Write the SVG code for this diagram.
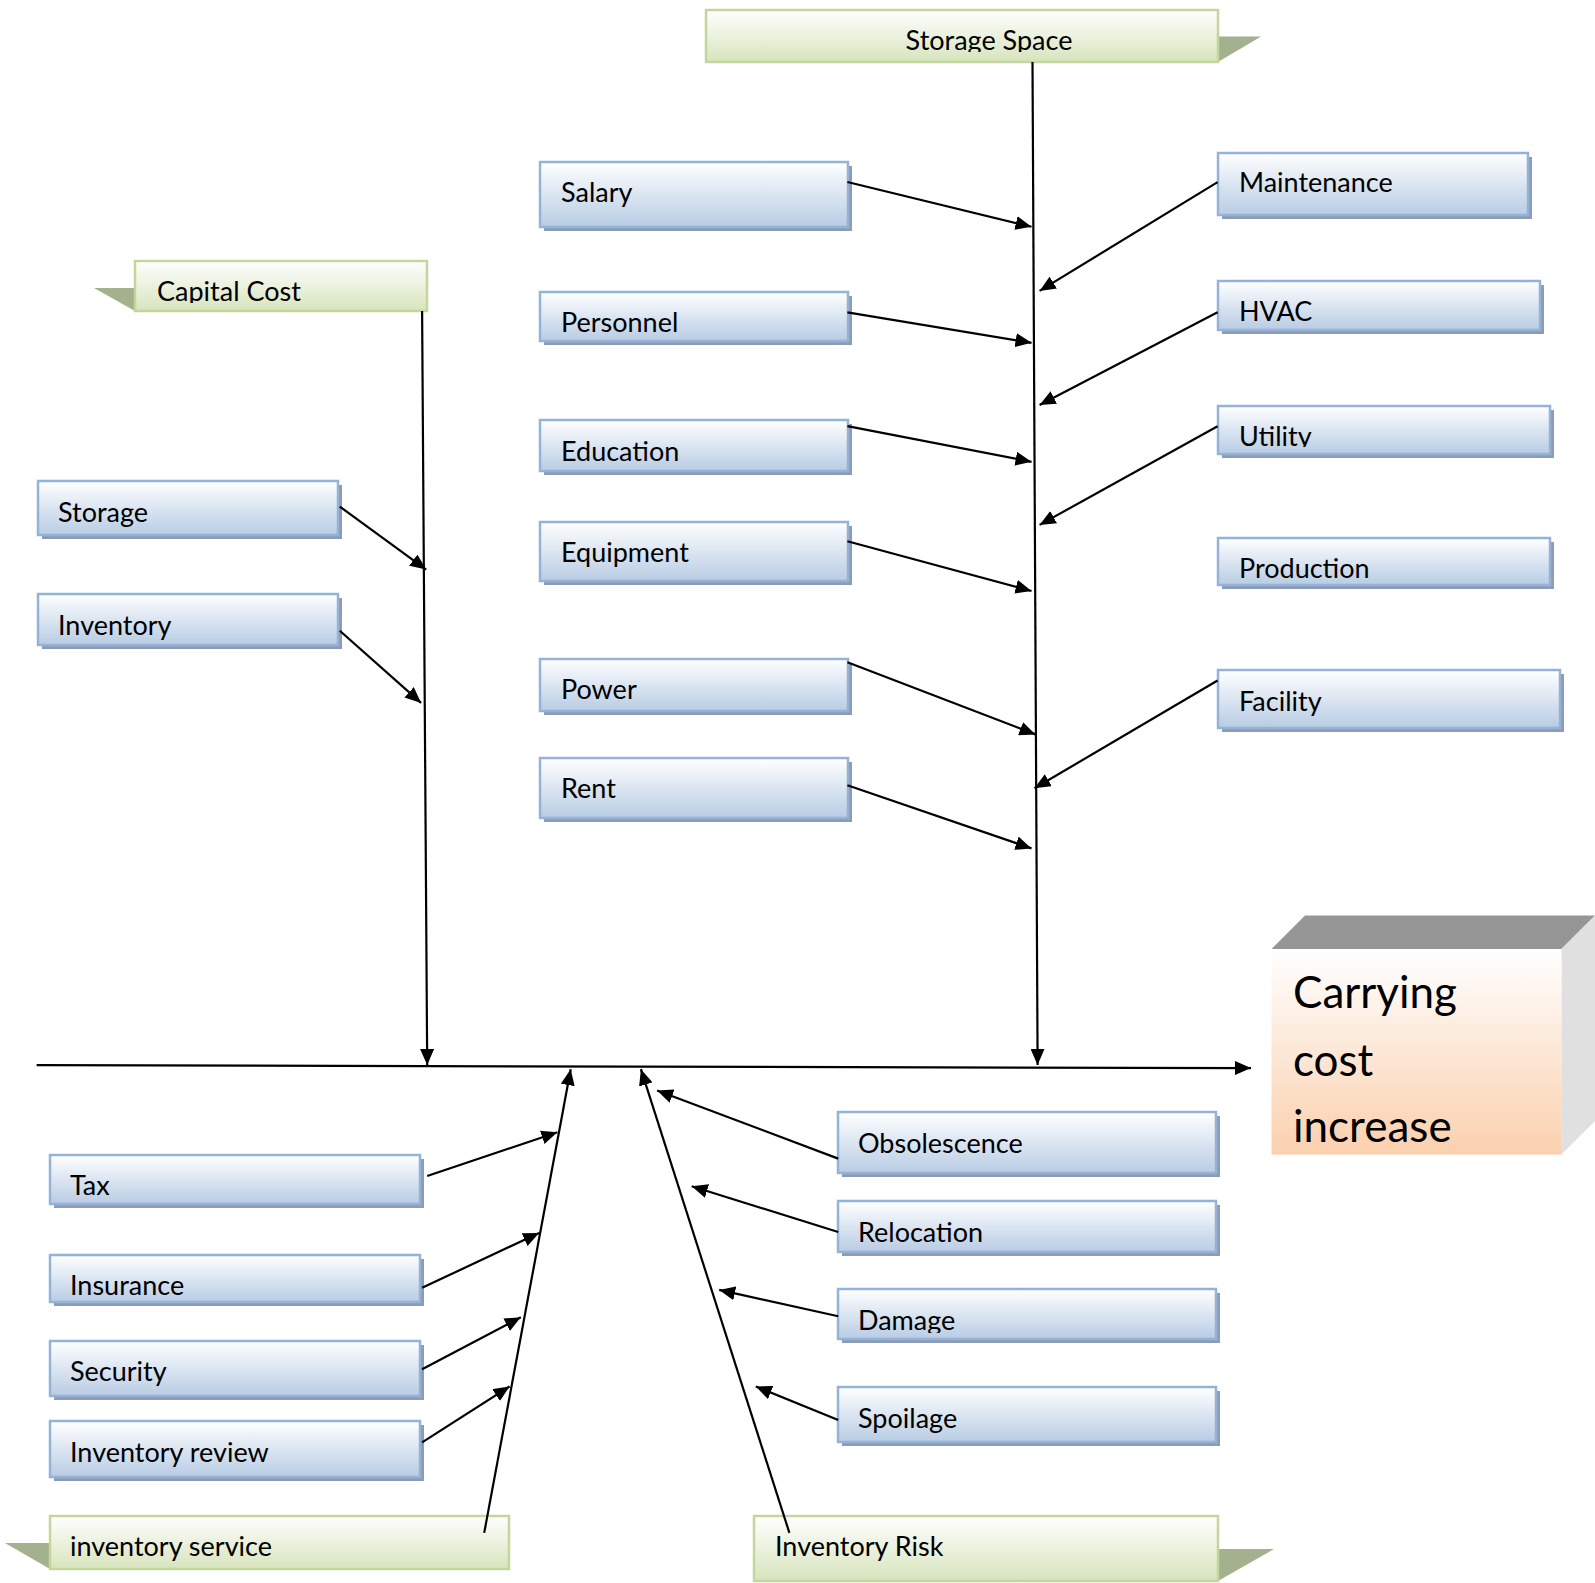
<svg xmlns="http://www.w3.org/2000/svg" width="1595" height="1583" viewBox="0 0 1595 1583">
<defs>
<linearGradient id="gb" x1="0" y1="0" x2="0" y2="1"><stop offset="0" stop-color="#FFFFFF"/><stop offset="1" stop-color="#B8CCE4"/></linearGradient>
<linearGradient id="gg" x1="0" y1="0" x2="0" y2="1"><stop offset="0" stop-color="#FFFFFF"/><stop offset="1" stop-color="#D7E4BD"/></linearGradient>
<linearGradient id="go" x1="0" y1="0" x2="0" y2="1"><stop offset="0" stop-color="#FFFFFF"/><stop offset="1" stop-color="#FBD0AE"/></linearGradient>
<marker id="ah" markerUnits="userSpaceOnUse" markerWidth="18" markerHeight="14" refX="16" refY="7" orient="auto"><path d="M0,0 L16,7 L0,14 z" fill="#000"/></marker>
<clipPath id="cSS"><rect x="706" y="10" width="512" height="42"/></clipPath>
<clipPath id="cCC"><rect x="135" y="261" width="292" height="42"/></clipPath>
<clipPath id="cUT"><rect x="1218" y="406" width="334" height="41"/></clipPath>
<clipPath id="cDM"><rect x="838" y="1289" width="380" height="44"/></clipPath>
</defs>
<style>
.bx{fill:url(#gb);stroke:#95B3D7;stroke-width:2.5}
.sh{fill:#8C9CB6}
.gx{fill:url(#gg);stroke:#C3D69B;stroke-width:2.5}
.gt{fill:#A3B18E}
text{font-family:Lato,"Open Sans","Liberation Sans",sans-serif;font-size:27px;fill:#000}
.big{font-size:44px}
.cn line{stroke:#000;stroke-width:2.2;fill:none}
.cn .a{marker-end:url(#ah)}
</style>

<g id="storage-space"><polygon class="gt" points="1218,36.6 1261,36.6 1218,62"/><rect class="gx" x="706" y="10" width="512" height="52"/><text x="989" y="50" text-anchor="middle" clip-path="url(#cSS)">Storage Space</text></g>
<g id="capital-cost"><polygon class="gt" points="135,288 94,288 135,311"/><rect class="gx" x="135" y="261" width="292" height="50"/><text x="157" y="301" clip-path="url(#cCC)">Capital Cost</text></g>
<g id="inventory-service"><polygon class="gt" points="50,1543 5,1543 50,1569"/><rect class="gx" x="50" y="1516" width="459" height="53"/><text x="70" y="1556">inventory service</text></g>
<g id="inventory-risk"><polygon class="gt" points="1218,1549 1274,1549 1218,1581"/><rect class="gx" x="754" y="1516" width="464" height="65"/><text x="775" y="1556">Inventory Risk</text></g>

<g id="salary"><rect class="sh" x="544" y="166" width="308" height="65"/><rect class="bx" x="540" y="162" width="308" height="65"/><text x="561" y="202">Salary</text></g>
<g id="personnel"><rect class="sh" x="544" y="296" width="308" height="49"/><rect class="bx" x="540" y="292" width="308" height="49"/><text x="561" y="332">Personnel</text></g>
<g id="education"><rect class="sh" x="544" y="424" width="308" height="51"/><rect class="bx" x="540" y="420" width="308" height="51"/><text x="561" y="461">Education</text></g>
<g id="equipment"><rect class="sh" x="544" y="526" width="308" height="59"/><rect class="bx" x="540" y="522" width="308" height="59"/><text x="561" y="562">Equipment</text></g>
<g id="power"><rect class="sh" x="544" y="663" width="308" height="52"/><rect class="bx" x="540" y="659" width="308" height="52"/><text x="561" y="699">Power</text></g>
<g id="rent"><rect class="sh" x="544" y="762" width="308" height="60"/><rect class="bx" x="540" y="758" width="308" height="60"/><text x="561" y="798">Rent</text></g>

<g id="maintenance"><rect class="sh" x="1222" y="157" width="310" height="62"/><rect class="bx" x="1218" y="153" width="310" height="62"/><text x="1239" y="192">Maintenance</text></g>
<g id="hvac"><rect class="sh" x="1222" y="285" width="322" height="49"/><rect class="bx" x="1218" y="281" width="322" height="49"/><text x="1239" y="321">HVAC</text></g>
<g id="utility"><rect class="sh" x="1222" y="410" width="332" height="48"/><rect class="bx" x="1218" y="406" width="332" height="48"/><text x="1239" y="446" clip-path="url(#cUT)">Utility</text></g>
<g id="production"><rect class="sh" x="1222" y="542" width="332" height="47"/><rect class="bx" x="1218" y="538" width="332" height="47"/><text x="1239" y="578">Production</text></g>
<g id="facility"><rect class="sh" x="1222" y="674" width="342" height="58"/><rect class="bx" x="1218" y="670" width="342" height="58"/><text x="1239" y="711">Facility</text></g>

<g id="storage"><rect class="sh" x="42" y="485" width="300" height="54"/><rect class="bx" x="38" y="481" width="300" height="54"/><text x="58" y="522">Storage</text></g>
<g id="inventory"><rect class="sh" x="42" y="598" width="300" height="51"/><rect class="bx" x="38" y="594" width="300" height="51"/><text x="58" y="635">Inventory</text></g>

<g id="tax"><rect class="sh" x="54" y="1159" width="370" height="49"/><rect class="bx" x="50" y="1155" width="370" height="49"/><text x="70" y="1195">Tax</text></g>
<g id="insurance"><rect class="sh" x="54" y="1259" width="370" height="47"/><rect class="bx" x="50" y="1255" width="370" height="47"/><text x="70" y="1295">Insurance</text></g>
<g id="security"><rect class="sh" x="54" y="1345" width="370" height="55"/><rect class="bx" x="50" y="1341" width="370" height="55"/><text x="70" y="1381">Security</text></g>
<g id="inventory-review"><rect class="sh" x="54" y="1425" width="370" height="56"/><rect class="bx" x="50" y="1421" width="370" height="56"/><text x="70" y="1462">Inventory review</text></g>

<g id="obsolescence"><rect class="sh" x="842" y="1116" width="378" height="61"/><rect class="bx" x="838" y="1112" width="378" height="61"/><text x="858" y="1153">Obsolescence</text></g>
<g id="relocation"><rect class="sh" x="842" y="1205" width="378" height="51"/><rect class="bx" x="838" y="1201" width="378" height="51"/><text x="858" y="1242">Relocation</text></g>
<g id="damage"><rect class="sh" x="842" y="1293" width="378" height="50"/><rect class="bx" x="838" y="1289" width="378" height="50"/><text x="858" y="1330" clip-path="url(#cDM)">Damage</text></g>
<g id="spoilage"><rect class="sh" x="842" y="1391" width="378" height="55"/><rect class="bx" x="838" y="1387" width="378" height="55"/><text x="858" y="1428">Spoilage</text></g>

<g id="carrying-cost">
<polygon points="1271.5,949 1305,915.5 1595,915.5 1561.4,949" fill="#969696"/>
<polygon points="1561.4,949 1595,915.5 1595,1121 1561.4,1154.6" fill="#E0E0E0"/>
<rect x="1271.5" y="949" width="290" height="205.6" fill="url(#go)"/>
<text class="big" x="1293" y="1008">Carrying</text>
<text class="big" x="1293" y="1076">cost</text>
<text class="big" x="1293" y="1142">increase</text>
</g>

<g id="connectors" class="cn">
<line class="a" x1="36.6" y1="1065.2" x2="1251" y2="1068.1"/>
<line class="a" x1="1032.5" y1="62" x2="1037.6" y2="1065"/>
<line class="a" x1="422.1" y1="311" x2="427.2" y2="1065"/>
<line class="a" x1="847.4" y1="182" x2="1031.5" y2="226.8"/>
<line class="a" x1="847.4" y1="312.3" x2="1031.5" y2="342.8"/>
<line class="a" x1="847.4" y1="426.2" x2="1031.5" y2="461.8"/>
<line class="a" x1="847.4" y1="541.2" x2="1031.5" y2="591"/>
<line class="a" x1="847.4" y1="662.2" x2="1035.5" y2="734.4"/>
<line class="a" x1="847.4" y1="785.3" x2="1031.5" y2="848.4"/>
<line class="a" x1="1217.6" y1="182.1" x2="1039.6" y2="290.9"/>
<line class="a" x1="1217.6" y1="312.3" x2="1039.6" y2="404.9"/>
<line class="a" x1="1217.6" y1="426.2" x2="1039.6" y2="524.9"/>
<line class="a" x1="1217.6" y1="680.5" x2="1034.5" y2="788.3"/>
<line class="a" x1="339.8" y1="506.6" x2="426.2" y2="569.6"/>
<line class="a" x1="339.8" y1="630.7" x2="421.1" y2="702.9"/>
<line class="a" x1="484.2" y1="1532.9" x2="570.7" y2="1069.2"/>
<line class="a" x1="427.2" y1="1176" x2="557.4" y2="1132.2"/>
<line class="a" x1="422.1" y1="1287.8" x2="539.1" y2="1232.9"/>
<line class="a" x1="422.1" y1="1369.2" x2="520.8" y2="1317.3"/>
<line class="a" x1="422.1" y1="1442.4" x2="509.6" y2="1386.5"/>
<line class="a" x1="789.4" y1="1532.9" x2="640.9" y2="1069.2"/>
<line class="a" x1="838.2" y1="1158.6" x2="657.1" y2="1090.5"/>
<line class="a" x1="838.2" y1="1232" x2="691.7" y2="1186.2"/>
<line class="a" x1="838.2" y1="1316.3" x2="719.2" y2="1289.9"/>
<line class="a" x1="838.2" y1="1420.1" x2="755.8" y2="1386.5"/>
</g>
</svg>
